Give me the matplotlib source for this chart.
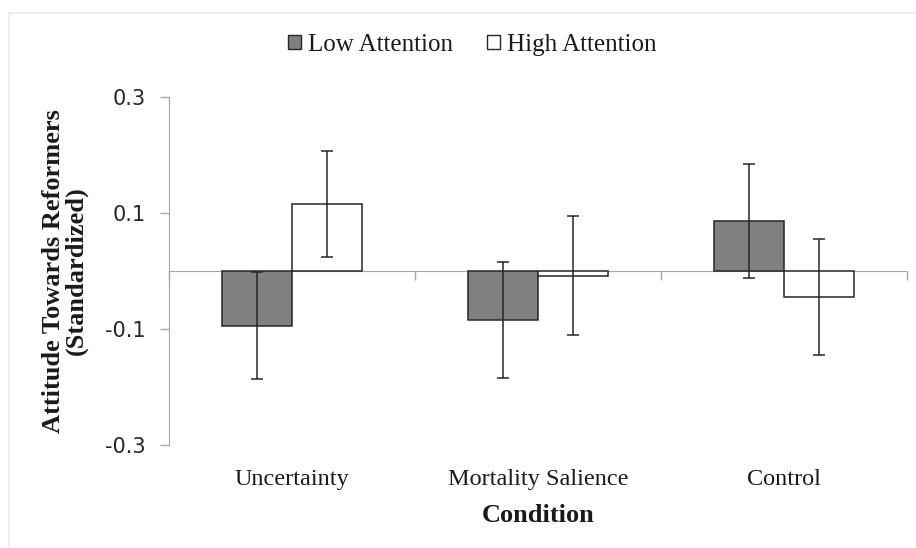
import matplotlib
matplotlib.use("Agg")
import matplotlib.pyplot as plt
from matplotlib.patches import Patch, Rectangle
import matplotlib.transforms as mtransforms
import numpy as np

categories = ["Uncertainty", "Mortality Salience", "Control"]
series_names = ["Low Attention", "High Attention"]
low_means = [-0.094, -0.085, 0.086]
low_errs = [0.093, 0.100, 0.098]
high_means = [0.116, -0.008, -0.045]
high_errs = [0.091, 0.103, 0.100]
yticks = [-0.3, -0.1, 0.1, 0.3]
ytick_labels = ["-0.3", "-0.1", "0.1", "0.3"]

SERIF = ["Liberation Serif", "DejaVu Serif"]
SANS = ["DejaVu Sans"]
AX_GRAY = "#a6a6a6"
TXT = "#1a1a1a"

fig = plt.figure(figsize=(9.16, 5.48), dpi=100)
fig.patches.append(Rectangle((9 / 916, -0.05), 1.2, 1 - 13 / 548 + 0.05,
                             transform=fig.transFigure, fill=False,
                             edgecolor="#ececec", linewidth=1.2))
ax = fig.add_axes([169 / 916, 1 - 445 / 548, (907 - 169) / 916, (445 - 97) / 548])

x = np.arange(len(categories))
w = 0.285
ax.bar(x - w / 2, low_means, width=w, color="#808080", edgecolor="#262626",
       linewidth=1.1, zorder=3, label=series_names[0])
ax.bar(x + w / 2, high_means, width=w, color="white", edgecolor="#262626",
       linewidth=1.1, zorder=3, label=series_names[1])
ax.errorbar(x - w / 2, low_means, yerr=low_errs, fmt="none", ecolor="#262626",
            elinewidth=1.1, capsize=4.5, capthick=1.1, zorder=4)
ax.errorbar(x + w / 2, high_means, yerr=high_errs, fmt="none", ecolor="#262626",
            elinewidth=1.1, capsize=4.5, capthick=1.1, zorder=4)

ax.set_xlim(-0.5, len(categories) - 0.5)
ax.set_ylim(-0.3, 0.3)
ax.set_yticks(yticks)
ax.set_yticklabels(ytick_labels, fontfamily=SANS, fontsize=15, color="#262626")

for s in ["top", "right"]:
    ax.spines[s].set_visible(False)
ax.spines["left"].set_color(AX_GRAY)
ax.spines["bottom"].set_color(AX_GRAY)
ax.spines["bottom"].set_position(("data", 0))
ax.spines["bottom"].set_zorder(2)
ax.set_xticks(np.arange(len(categories) + 1) - 0.5)
ax.set_xticklabels([])
ax.tick_params(axis="x", direction="out", length=6.5, color=AX_GRAY, width=1)
ax.tick_params(axis="y", direction="out", length=6.5, color=AX_GRAY, width=1, pad=10)

trans = mtransforms.blended_transform_factory(ax.transData, ax.transAxes)
for i, c in enumerate(categories):
    ax.text(i, -0.115, c, transform=trans, ha="center", va="baseline",
            fontfamily=SERIF, fontsize=17.5, color=TXT)
ax.text(0.5, -0.221, "Condition", transform=ax.transAxes, ha="center", va="baseline",
        fontfamily=SERIF, fontsize=19, fontweight="bold", color=TXT)

fig.text(65 / 916, 1 - 271 / 548, "Attitude Towards Reformers\n(Standardized)",
         rotation=90, ha="center", va="center", multialignment="center",
         fontfamily=SERIF, fontsize=19, fontweight="bold", color=TXT,
         linespacing=1.0)

handles = [Patch(facecolor="#808080", edgecolor="#262626", linewidth=1),
           Patch(facecolor="white", edgecolor="#262626", linewidth=1)]
fig.legend(handles, series_names, loc="center", bbox_to_anchor=(472 / 916, 1 - 45 / 548),
           ncol=2, frameon=False, prop={"family": SERIF, "size": 18},
           handlelength=0.52, handleheight=0.52, handletextpad=0.28,
           columnspacing=1.36, borderpad=0.2)
for t in fig.legends[0].get_texts():
    t.set_color(TXT)

fig.savefig("out.png", dpi=100)
